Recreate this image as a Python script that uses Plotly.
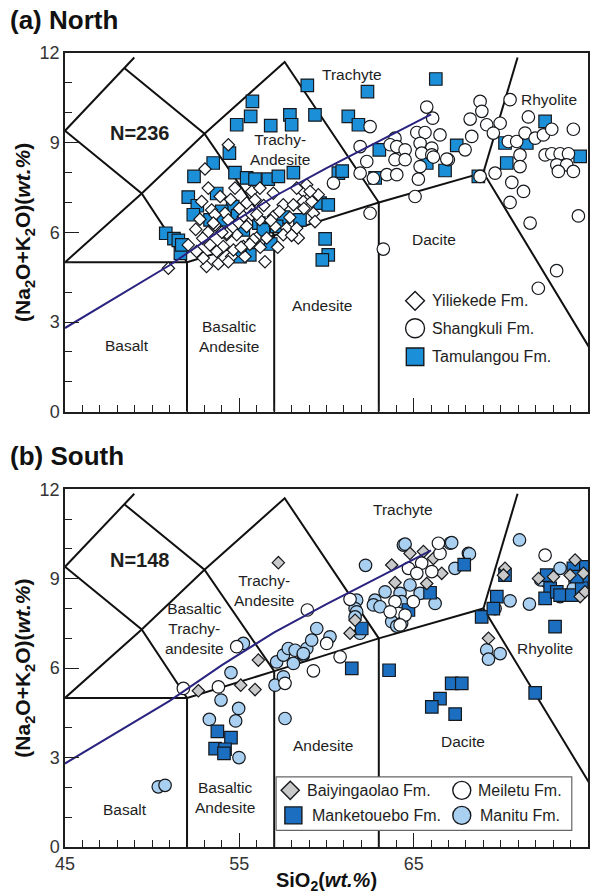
import plotly.graph_objects as go

# ---------------- data: panel (a) North ----------------
TAM_SIO2 = [55.75, 55.65, 54.85, 56.80, 57.90, 58.00, 58.90, 62.35, 66.27, 59.34, 61.25, 61.83,
            54.43, 53.50, 52.40, 54.75, 55.42, 55.90, 56.66, 57.24, 58.10,
            63.03, 67.47, 72.54, 70.34, 71.49, 70.24, 74.55,
            60.68, 60.90, 62.79, 68.71, 59.63, 60.10, 65.75, 66.80,
            59.92, 60.10, 59.76,
            52.07, 52.59, 54.62, 53.99, 52.36, 53.32, 56.12, 57.52,
            50.78, 51.25, 51.50, 51.62, 56.80, 55.60, 55.04, 54.08, 56.38, 57.14, 58.48, 55.23,
            51.70, 53.70, 54.90]
TAM_ALK = [10.38, 9.88, 9.60, 9.57, 9.93, 9.60, 10.92, 10.71, 11.13, 9.93, 9.88, 9.60,
           8.65, 8.32, 7.87, 8.00, 7.82, 7.78, 7.78, 7.87, 8.00,
           8.76, 8.91, 9.71, 8.32, 8.99, 8.99, 8.54,
           7.98, 8.05, 7.82, 7.87, 6.98, 6.92, 8.32, 8.07,
           5.78, 5.25, 5.08,
           7.18, 6.89, 6.86, 6.70, 6.59, 6.42, 6.31, 6.51,
           5.97, 5.79, 5.73, 5.30, 5.61, 5.25, 5.19, 6.42, 6.08, 6.20, 6.42, 6.08,
           5.58, 7.30, 6.55]

YIL_SIO2 = [54.37, 53.03, 53.22, 54.75, 55.71, 56.18, 56.95, 58.67, 52.84, 53.41, 55.42, 57.52,
            58.10, 58.67, 52.74, 54.18, 54.37, 55.23, 53.60, 54.94, 55.42, 53.60, 57.05, 57.71,
            56.18, 54.85, 54.27, 55.99, 56.57, 58.38, 52.07, 52.55, 53.79, 54.56, 55.32, 54.08,
            56.47, 53.12, 53.79, 50.93, 54.37, 55.90, 55.71, 53.32, 54.56, 56.95,
            58.29, 58.86, 59.53, 59.15, 59.06, 59.25, 59.34, 58.70,
            53.70, 54.66, 55.23, 55.80, 57.52, 58.29, 52.93, 53.51, 54.28,
            56.00, 56.40, 57.30, 55.00, 53.90, 54.50, 56.80, 57.90, 52.50, 53.20, 55.60, 56.20,
            57.20, 58.00, 52.90, 54.00, 55.10]
YIL_ALK = [8.93, 8.12, 7.48, 7.48, 7.37, 7.48, 7.31, 7.37, 7.03, 6.75, 6.98, 6.92,
           6.92, 7.03, 6.44, 6.64, 6.42, 6.53, 6.59, 6.31, 6.20, 6.25, 6.20, 6.14,
           6.42, 5.92, 5.92, 5.81, 5.81, 5.81, 5.58, 5.36, 5.36, 5.19, 5.19, 5.53,
           5.02, 4.86, 4.95, 4.80, 5.02, 7.09, 6.59, 5.58, 6.14, 6.53,
           7.48, 7.59, 7.26, 7.03, 7.37, 6.64, 6.36, 6.80,
           5.36, 5.41, 5.53, 5.75, 5.92, 6.14, 5.14, 6.31, 5.97,
           6.60, 6.90, 6.70, 6.80, 7.20, 7.10, 6.40, 6.50, 6.10, 6.00, 5.60, 5.50,
           5.50, 5.90, 5.80, 6.00, 5.50]

SHA_SIO2 = [62.50, 65.75, 66.09, 68.81, 68.91, 68.24, 69.19, 69.96, 70.53, 69.57, 70.43, 70.91,
            71.39, 71.58, 71.97, 72.44, 72.92, 74.16, 71.10, 71.10, 72.54, 72.92, 73.40, 73.88,
            73.21, 73.78, 73.30, 74.16, 69.67, 68.81, 70.63, 71.30, 70.53,
            65.18, 65.65, 66.51, 65.37, 66.04, 65.46, 66.04, 66.99, 65.37, 65.27, 65.08,
            68.33, 67.95, 63.93, 63.65, 61.93, 64.03, 64.51, 63.93, 64.51, 62.31, 61.93,
            63.46, 64.03, 62.69, 60.40, 62.50, 74.45, 71.68, 63.26, 73.20, 72.15,
            66.13, 66.90]
SHA_ALK = [9.54, 10.19, 9.82, 10.38, 10.05, 9.79, 9.60, 9.65, 10.44, 9.32, 9.04, 9.04,
           9.32, 9.86, 9.15, 9.26, 9.45, 9.45, 8.59, 8.20, 8.59, 8.63, 8.63, 8.63,
           8.26, 8.26, 8.04, 8.04, 7.98, 7.87, 7.67, 7.37, 7.00,
           9.34, 9.34, 9.26, 8.98, 8.82, 8.65, 8.59, 8.43, 8.20, 7.78, 7.20,
           9.21, 8.76, 9.15, 8.93, 8.87, 8.87, 8.76, 8.43, 8.43, 8.37, 7.98,
           7.93, 7.93, 7.81, 7.65, 6.64, 6.55, 6.31, 5.44, 4.72, 4.13,
           8.52, 8.45]

# ---------------- data: panel (b) South ----------------
MKT_SIO2 = [53.74, 54.52, 53.61, 54.18, 54.12, 61.45, 63.59, 67.18, 67.76, 66.51, 66.04, 67.38,
            71.97, 67.90, 65.94, 64.70, 62.02, 69.77, 68.90, 69.57, 70.24, 72.63, 72.83,
            72.54, 73.21, 73.40, 74.07, 74.74, 74.83, 74.64, 74.16, 74.36, 73.11]
MKT_ALK = [3.88, 3.67, 3.30, 3.28, 3.14, 5.99, 5.93, 5.49, 5.49, 4.98, 4.70, 4.46,
           5.17, 9.47, 8.53, 7.95, 7.33, 8.40, 7.72, 8.00, 9.12, 9.12, 8.68,
           8.34, 8.56, 8.45, 8.45, 9.40, 8.96, 8.68, 9.35, 9.07, 7.39]

BAI_SIO2 = [57.24, 52.65, 55.08, 55.90, 56.09, 61.64, 61.35, 63.93, 63.74, 64.79, 66.13, 66.61,
            65.75, 65.56, 70.24, 70.15, 69.29, 74.26, 74.74, 73.97, 73.02, 72.16, 74.55, 74.83]
BAI_ALK = [9.54, 5.24, 5.43, 5.28, 6.27, 7.61, 7.17, 8.87, 9.46, 9.85, 9.68, 9.18,
           8.84, 9.91, 9.35, 9.12, 7.00, 9.63, 9.18, 9.12, 9.07, 9.01, 8.40, 8.56]

MEI_SIO2 = [51.79, 53.80, 57.62, 54.85, 58.90, 61.35, 60.78, 59.25, 60.01, 63.93, 63.65, 64.51,
            64.22, 64.98, 64.70, 65.46, 66.04, 66.51, 66.42, 65.18, 72.54]
MEI_ALK = [5.32, 5.37, 5.49, 6.72, 7.95, 8.31, 6.38, 5.91, 6.83, 8.23, 7.89, 7.78,
           7.45, 8.23, 9.35, 9.52, 9.24, 9.85, 10.19, 9.18, 9.79]

MAN_SIO2 = [50.35, 50.74, 53.28, 54.79, 53.95, 54.96, 54.98, 54.52, 57.14, 57.53, 58.10, 57.05,
            57.62, 55.23, 57.81, 58.20, 58.67, 58.87, 57.53,
            62.24, 64.41, 67.09, 67.37, 68.14, 61.73, 61.64, 61.73, 62.78, 62.69, 63.07, 63.36,
            64.22, 64.31, 64.79, 65.37, 63.74, 64.03, 64.31, 66.23, 61.92, 59.44, 60.20, 59.15,
            58.67, 61.64,
            64.51, 67.18, 68.20, 71.07, 70.53, 71.64, 69.67, 73.40, 72.63, 73.40, 74.26, 74.16,
            69.19, 69.96, 69.29, 72.29]
MAN_ALK = [2.02, 2.07, 4.28, 4.23, 4.93, 4.65, 3.00, 5.85, 6.21, 6.44, 6.16, 5.43,
           4.31, 6.83, 6.66, 6.60, 6.44, 6.66, 5.71,
           9.45, 10.13, 10.19, 9.35, 9.85, 8.28, 8.00, 7.89, 8.28, 8.12, 8.06, 8.56,
           8.51, 8.23, 8.79, 8.51, 7.56, 7.41, 7.50, 8.17, 7.17, 7.33, 7.05, 6.94,
           6.49, 7.72,
           10.16, 10.21, 9.83, 10.30, 8.26, 8.15, 8.00, 9.35, 8.90, 8.40, 8.90, 8.68,
           6.61, 6.49, 6.30, 8.96]

# ---------------- TAS classification geometry ----------------
TAS_LINES = [
    ([45, 52], [5, 5]),
    ([52, 52, 57, 63, 69, 77.3], [0, 5, 5.9, 7, 8, 0]),
    ([57, 57], [0, 5.9]),
    ([63, 63], [0, 7]),
    ([45, 49.4, 53, 57.6, 63], [5, 7.3, 9.3, 11.7, 7]),
    ([45, 48.4, 52.5], [9.4, 11.5, 14]),
    ([48.4, 53, 57], [11.5, 9.3, 5.9]),
    ([45, 49.4, 52], [9.4, 7.3, 5]),
    ([69, 71.8], [8, 13.5]),
]
TAS_TOP = 11.85
# alkaline / sub-alkaline divide
DIV_SIO2 = [45, 48, 51, 54, 57, 60, 63, 66]
DIV_ALK = [2.8, 3.85, 4.9, 6.1, 7.2, 8.15, 9.05, 9.95]

LABELS_A = [("Trachyte", 61.45, 11.27), ("Rhyolite", 72.75, 10.46),
            ("Trachy-<br>Andesite", 57.35, 8.78), ("Dacite", 66.15, 5.77),
            ("Andesite", 59.75, 3.57), ("Basaltic<br>Andesite", 54.4, 2.5),
            ("Basalt", 48.55, 2.23)]
LABELS_B = [("Trachyte", 64.4, 11.33), ("Rhyolite", 72.55, 6.66),
            ("Trachy-<br>Andesite", 56.4, 8.62), ("Basaltic<br>Trachy-<br>andesite", 52.4, 7.32),
            ("Andesite", 59.8, 3.41), ("Dacite", 67.85, 3.53),
            ("Basaltic<br>Andesite", 54.2, 1.65), ("Basalt", 48.45, 1.26)]

FONT = "Liberation Sans, Arial, Helvetica, sans-serif"
INK = "#1e1e1e"


def clip_top(xs, ys, ymax):
    ox, oy = [xs[0]], [ys[0]]
    for i in range(1, len(xs)):
        x0, y0, x1, y1 = xs[i - 1], ys[i - 1], xs[i], ys[i]
        if y1 > ymax >= y0:
            t = (ymax - y0) / (y1 - y0)
            ox.append(x0 + t * (x1 - x0)); oy.append(ymax)
            break
        ox.append(x1); oy.append(y1)
    return ox, oy


fig = go.Figure()


def add_boundaries(xa, ya):
    for xs, ys in TAS_LINES:
        cx, cy = clip_top(xs, ys, TAS_TOP)
        fig.add_trace(go.Scatter(x=cx, y=cy, mode="lines", xaxis=xa, yaxis=ya,
                                 line=dict(color="#111111", width=2), showlegend=False,
                                 hoverinfo="skip"))


def add_points(xs, ys, symbol, fill, size, xa, ya, name, lw=1.2):
    fig.add_trace(go.Scatter(x=xs, y=ys, mode="markers", name=name, xaxis=xa, yaxis=ya,
                             marker=dict(symbol=symbol, color=fill, size=size,
                                         line=dict(color="#15181c", width=lw)),
                             showlegend=False))


def add_divider(xa, ya):
    fig.add_trace(go.Scatter(x=DIV_SIO2, y=DIV_ALK, mode="lines", xaxis=xa, yaxis=ya,
                             line=dict(color="#2a237f", width=2), showlegend=False,
                             hoverinfo="skip"))


# panel (a)
add_boundaries("x", "y")
add_points(TAM_SIO2, TAM_ALK, "square", "#1c8fd9", 12.5, "x", "y", "Tamulangou Fm.")
add_points(SHA_SIO2, SHA_ALK, "circle", "white", 12.5, "x", "y", "Shangkuli Fm.")
add_points(YIL_SIO2, YIL_ALK, "diamond", "white", 9.5, "x", "y", "Yiliekede Fm.")
add_divider("x", "y")

# panel (b)
add_boundaries("x2", "y2")
add_points(MAN_SIO2, MAN_ALK, "circle", "#a9d0f1", 12.5, "x2", "y2", "Manitu Fm.")
add_points(MKT_SIO2, MKT_ALK, "square", "#1b6ec0", 12.5, "x2", "y2", "Manketouebo Fm.")
add_points(BAI_SIO2, BAI_ALK, "diamond", "#c9c9c9", 9.5, "x2", "y2", "Baiyingaolao Fm.")
add_points(MEI_SIO2, MEI_ALK, "circle", "white", 12.5, "x2", "y2", "Meiletu Fm.")
add_divider("x2", "y2")

annotations = []

# legend (a): drawn inside the plot, no frame
LEG_A = [("Yiliekede Fm.", "diamond", "white", 14.5, 3.71),
         ("Shangkuli Fm.", "circle", "white", 19, 2.79),
         ("Tamulangou Fm.", "square", "#1c8fd9", 17.5, 1.84)]
for name, sym, col, sz, yy in LEG_A:
    fig.add_trace(go.Scatter(x=[65.08], y=[yy], mode="markers", xaxis="x", yaxis="y",
                             marker=dict(symbol=sym, color=col, size=sz,
                                         line=dict(color="#15181c", width=1.4)),
                             showlegend=False, hoverinfo="skip"))
    annotations.append(dict(x=65.95, y=yy, xref="x", yref="y", text=name, showarrow=False,
                            xanchor="left", yanchor="middle",
                            font=dict(family=FONT, size=16, color=INK)))

# legend (b): framed box, two columns
BOX = (57.11, 74.07, 0.56, 2.35)
fig.add_trace(go.Scatter(x=[BOX[0], BOX[1], BOX[1], BOX[0], BOX[0]],
                         y=[BOX[2], BOX[2], BOX[3], BOX[3], BOX[2]],
                         mode="lines", fill="toself", fillcolor="white",
                         line=dict(color="#666666", width=1.2), xaxis="x2", yaxis="y2",
                         showlegend=False, hoverinfo="skip"))
LEG_B = [("Baiyingaolao Fm.", "diamond", "#c9c9c9", 14, 57.92, 58.75, 1.90),
         ("Meiletu Fm.", "circle", "white", 18, 67.76, 68.55, 1.90),
         ("Manketouebo Fm.", "square", "#1b6ec0", 17, 58.10, 59.05, 1.06),
         ("Manitu Fm.", "circle", "#a9d0f1", 18, 67.76, 68.70, 1.06)]
for name, sym, col, sz, mx, tx, yy in LEG_B:
    fig.add_trace(go.Scatter(x=[mx], y=[yy], mode="markers", xaxis="x2", yaxis="y2",
                             marker=dict(symbol=sym, color=col, size=sz,
                                         line=dict(color="#15181c", width=1.4)),
                             showlegend=False, hoverinfo="skip"))
    annotations.append(dict(x=tx, y=yy, xref="x2", yref="y2", text=name, showarrow=False,
                            xanchor="left", yanchor="middle",
                            font=dict(family=FONT, size=16, color=INK)))

for txt, xx, yy in LABELS_A:
    annotations.append(dict(x=xx, y=yy, xref="x", yref="y", text=txt, showarrow=False,
                            font=dict(family=FONT, size=15.5, color=INK)))
for txt, xx, yy in LABELS_B:
    annotations.append(dict(x=xx, y=yy, xref="x2", yref="y2", text=txt, showarrow=False,
                            font=dict(family=FONT, size=15.5, color=INK)))

annotations.append(dict(x=49.3, y=9.32, xref="x", yref="y", text="<b>N=236</b>",
                        showarrow=False, font=dict(family=FONT, size=20, color=INK)))
annotations.append(dict(x=49.3, y=9.62, xref="x2", yref="y2", text="<b>N=148</b>",
                        showarrow=False, font=dict(family=FONT, size=20, color=INK)))
annotations.append(dict(x=-0.109, y=1.0416, xref="paper", yref="paper", text="<b>(a) North</b>",
                        showarrow=False, xanchor="left", yanchor="middle",
                        font=dict(family=FONT, size=26, color="#111")))
annotations.append(dict(x=-0.109, y=0.4924, xref="paper", yref="paper", text="<b>(b) South</b>",
                        showarrow=False, xanchor="left", yanchor="middle",
                        font=dict(family=FONT, size=26, color="#111")))

ytitle = "<b>(Na<sub>2</sub>O+K<sub>2</sub>O)(<i>wt.%</i>)</b>"
axis_common = dict(range=[45, 75], showline=True, linecolor=INK, linewidth=1.5, mirror=True,
                   ticks="inside", ticklen=14, tickwidth=1.3, tickcolor=INK, tick0=45, dtick=10,
                   showgrid=False, zeroline=False, automargin=False,
                   tickfont=dict(family=FONT, size=18, color="#333"),
                   minor=dict(dtick=1, ticks="inside", ticklen=7, tickwidth=1.2,
                              tickcolor=INK, showgrid=False))
yaxis_common = dict(range=[0, 12], showline=True, linecolor=INK, linewidth=1.5, mirror=True,
                    ticks="inside", ticklen=14, tickwidth=1.3, tickcolor=INK, tick0=0, dtick=3,
                    showgrid=False, zeroline=False, automargin=False,
                    tickfont=dict(family=FONT, size=18, color="#333"),
                    minor=dict(dtick=1, ticks="inside", ticklen=7, tickwidth=1.2,
                               tickcolor=INK, showgrid=False),
                    title=dict(text=ytitle, standoff=3,
                               font=dict(family=FONT, size=21, color="#111")))

fig.update_layout(
    width=597, height=894,
    margin=dict(l=65, r=9, t=53, b=47),
    paper_bgcolor="white", plot_bgcolor="white",
    showlegend=False,
    xaxis=dict(axis_common, domain=[0, 1], anchor="y", showticklabels=False),
    yaxis=dict(yaxis_common, domain=[0.5482, 1], anchor="x"),
    xaxis2=dict(axis_common, domain=[0, 1], anchor="y2", showticklabels=True,
                title=dict(text="<b>SiO<sub>2</sub>(<i>wt.%</i>)</b>", standoff=0,
                           font=dict(family=FONT, size=20, color="#111"))),
    yaxis2=dict(yaxis_common, domain=[0, 0.4505], anchor="x2"),
    annotations=annotations,
    font=dict(family=FONT, color=INK),
)

fig.write_html("out.html")
